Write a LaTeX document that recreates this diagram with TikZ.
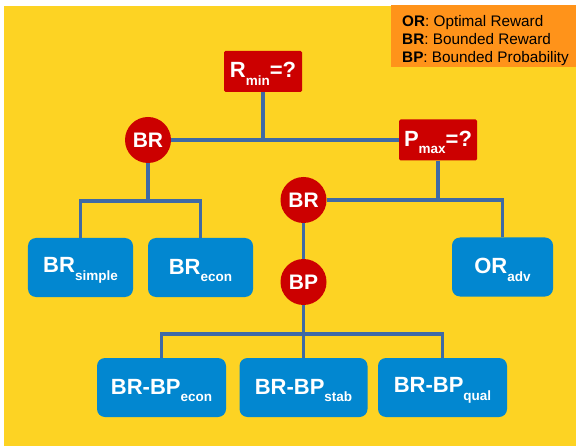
\documentclass[tikz,border=0pt]{standalone}
\usepackage{fontspec}
\setmainfont{Liberation Sans}
\definecolor{bgyellow}{HTML}{FDD323}
\definecolor{legendorange}{HTML}{FF931A}
\definecolor{qred}{HTML}{CC0000}
\definecolor{leafblue}{HTML}{0287D0}
\definecolor{linkblue}{HTML}{3F6AA5}
\newcommand\lowsub[1]{\raisebox{-7.5bp}{\fontsize{13.5bp}{14bp}\selectfont #1}}
\begin{document}
\begin{tikzpicture}[x=1bp,y=-1bp,
		qbox/.style={fill=qred, text=white, font=\bfseries\fontsize{22bp}{24bp}\selectfont,
			minimum width=78bp, minimum height=41bp, inner sep=0pt, text height=20bp, rounded corners=1.5bp},
		cnode/.style={circle, fill=qred, text=white, font=\bfseries\fontsize{21bp}{23bp}\selectfont,
			minimum size=46bp, inner sep=0pt},
		leaf/.style={fill=leafblue, text=white, font=\bfseries\fontsize{22bp}{24bp}\selectfont,
			minimum height=59bp, inner sep=0pt, text height=21bp, rounded corners=8bp},
		link/.style={draw=linkblue, line width=3.3bp}]
				\useasboundingbox (0,0) rectangle (576,446);
				\fill[bgyellow] (4,6) rectangle (576,446);
				% legend
				\fill[legendorange] (391,5) rectangle (576,67);
				\node[anchor=north west, align=left, inner sep=0pt, font=\fontsize{15.3bp}{17.7bp}\selectfont] (legend) at (402,15.5)
					{\textbf{OR}: Optimal Reward\\\textbf{BR}: Bounded Reward\\\textbf{BP}: Bounded Probability};
				% tree
				\node[qbox] (rmin) at (263,71.5) {R\lowsub{min}=?};
				\node[cnode] (br1) at (148,140) {BR};
				\node[qbox] (pmax) at (438,140) {P\lowsub{max}=?};
				\node[cnode] (br2) at (303.5,200) {BR};
				\node[cnode] (bp) at (303.5,282) {BP};
				\node[leaf, minimum width=105bp] (simple) at (80.5,267.5) {BR\lowsub{simple}};
				\node[leaf, minimum width=105bp] (econ) at (200.5,267.5) {BR\lowsub{econ}};
				\node[leaf, minimum width=101bp] (adv) at (502.5,267) {OR\lowsub{adv}};
				\node[leaf, minimum width=129bp] (bpecon) at (161.5,387.5) {BR-BP\lowsub{econ}};
				\node[leaf, minimum width=128bp] (bpstab) at (303.5,387.5) {BR-BP\lowsub{stab}};
				\node[leaf, minimum width=129bp] (bpqual) at (442.5,387.5) {BR-BP\lowsub{qual}};
				\coordinate (j1) at (148,201);
				\coordinate (j3) at (303.5,334);
				% connectors
				\draw[link] (rmin.south) -- (rmin.south |- br1.east);
				\draw[link] (br1.east) -- (pmax.west);
				\draw[link] (br1.south) -- (j1);
				\draw[link] (simple.north) |- (j1) -| (econ.north);
				\draw[link] (pmax.south) -- (pmax.south |- br2.east);
				\draw[link] (br2.east) -| (adv.north);
				\draw[link] (br2.south) -- (bp.north);
				\draw[link] (bp.south) -- (j3);
				\draw[link] (bpecon.north) |- (j3) -| (bpqual.north);
				\draw[link] (j3) -- (bpstab.north);
			\end{tikzpicture}
\end{document}
